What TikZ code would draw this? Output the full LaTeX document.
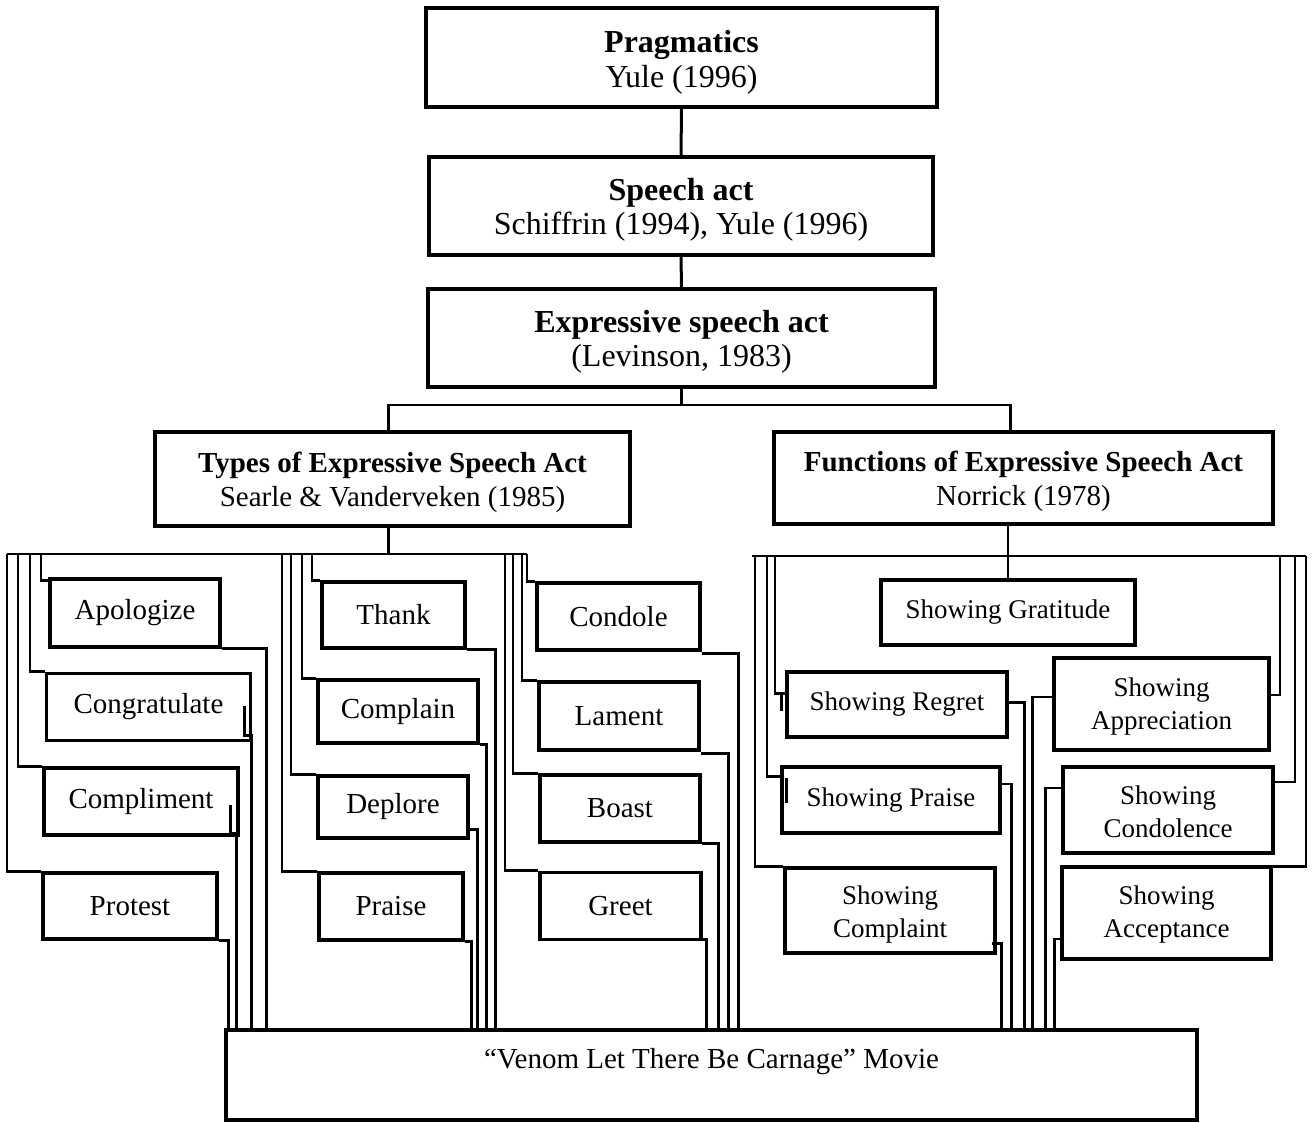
\documentclass[tikz,border=0pt]{standalone}
\usepackage{fontspec}
\setmainfont{Liberation Serif}
\begin{document}
\begin{tikzpicture}[x=1pt,y=-1pt,
  box/.style={draw,line width=3.5pt,inner sep=0pt,align=center},
  txt/.style={inner sep=0pt,align=center},
  bigf/.style={font=\fontsize{32}{34.5}\selectfont},
  midf/.style={font=\fontsize{29}{34}\selectfont},
  subf/.style={font=\fontsize{29}{33}\selectfont},
  funf/.style={font=\fontsize{27}{33}\selectfont},
  conn/.style={line width=2.6pt},
  stub/.style={line width=2.6pt}]
\useasboundingbox (0,0) rectangle (1314,1123);
% top chain
\node[box,minimum width=511pt,minimum height=99pt] (prag) at (681.5,57.5) {};
\node[txt,bigf] (pragt) at ([yshift=-5pt]prag.center) {\textbf{Pragmatics}\\Yule (1996)};
\node[box,minimum width=504pt,minimum height=98pt] (speech) at (681,206) {};
\node[txt,bigf] (speecht) at ([yshift=-4pt]speech.center) {\textbf{Speech act}\\Schiffrin (1994), Yule (1996)};
\node[box,minimum width=507pt,minimum height=98pt] (expr) at (681.5,338) {};
\node[txt,bigf] (exprt) at ([yshift=-4pt]expr.center) {\textbf{Expressive speech act}\\(Levinson, 1983)};
\node[box,minimum width=475pt,minimum height=94pt] (types) at (392.5,479) {};
\node[txt,midf] (typest) at ([yshift=-3.5pt]types.center) {\textbf{Types of Expressive Speech Act}\\Searle \& Vanderveken (1985)};
\node[box,minimum width=499pt,minimum height=92pt] (func) at (1023.5,478) {};
\node[txt,midf] (funct) at ([yshift=-3.5pt]func.center) {\textbf{Functions of Expressive Speech Act}\\Norrick (1978)};
% types sub-boxes
\node[box,subf,minimum width=170pt,minimum height=68pt] (apol) at (135,613) {Apologize};
\node[box,subf,minimum width=204pt,minimum height=67pt] (congr) at (148.5,707) {Congratulate};
\node[box,subf,minimum width=194pt,minimum height=67pt] (compl) at (141,801.5) {Compliment};
\node[box,subf,minimum width=174pt,minimum height=66pt] (protest) at (130,906) {Protest};
\node[box,subf,minimum width=143pt,minimum height=66pt] (thank) at (393.5,615) {Thank};
\node[box,subf,minimum width=160pt,minimum height=63pt] (complain) at (398,711.5) {Complain};
\node[box,subf,minimum width=150pt,minimum height=62pt] (deplore) at (393,807) {Deplore};
\node[box,subf,minimum width=144pt,minimum height=67pt] (praise) at (391,906.5) {Praise};
\node[box,subf,minimum width=163pt,minimum height=67pt] (condole) at (618.5,616.5) {Condole};
\node[box,subf,minimum width=160pt,minimum height=68pt] (lament) at (619,716) {Lament};
\node[box,subf,minimum width=160pt,minimum height=67pt] (boast) at (620,808.5) {Boast};
\node[box,subf,minimum width=161pt,minimum height=67pt] (greet) at (620.5,906) {Greet};
% function sub-boxes
\node[box,funf,minimum width=254pt,minimum height=65pt] (grat) at (1008,612.5) {Showing Gratitude};
\node[box,funf,minimum width=220pt,minimum height=65pt] (regret) at (897,704.5) {Showing Regret};
\node[box,funf,minimum width=218pt,minimum height=66pt] (spraise) at (891,800) {Showing Praise};
\node[box,minimum width=210pt,minimum height=85pt] (scompl) at (890,910.5) {};
\node[txt,funf] (scomplt) at ([yshift=-3.5pt]scompl.center) {Showing\\Complaint};
\node[box,minimum width=215pt,minimum height=92pt] (appr) at (1161.5,704) {};
\node[txt,funf] (apprt) at ([yshift=-3pt]appr.center) {Showing\\Appreciation};
\node[box,minimum width=210pt,minimum height=86pt] (condol) at (1168,810) {};
\node[txt,funf] (condolt) at ([yshift=-2pt]condol.center) {Showing\\Condolence};
\node[box,minimum width=209pt,minimum height=92pt] (accept) at (1166.5,913) {};
\node[txt,funf] (acceptt) at ([yshift=-1pt]accept.center) {Showing\\Acceptance};
% bottom box
\node[box,minimum width=971pt,minimum height=90pt] (venom) at (711.5,1075) {};
\node[txt,subf] (venomtxt) at ([yshift=13pt]venom.center) {“Venom Let There Be Carnage” Movie};
% top connectors
\coordinate (tb) at (0,405);
\draw[line width=3pt] (prag.south) -- (speech.north);
\draw[line width=3pt] (speech.south) -- (expr.north);
\draw[conn] (expr.south) -- (expr.south |- tb);
\draw[conn] ([xshift=-4pt]types.north) |- ([xshift=-13pt]func.north |- tb) -- ([xshift=-13pt]func.north);
% left bus
\coordinate (lbL) at (7,554);
\coordinate (lbR) at (527,554);
\draw[conn] ([xshift=-4pt]types.south) -- ([xshift=-4pt]types.south |- lbL);
\draw[conn] (lbL) -- (lbR);
% group 1 left
\draw[conn] ([xshift=34pt]lbL) |- ([yshift=-3pt]apol.north west);
\draw[conn] ([xshift=23pt]lbL) |- (congr.north west);
\draw[conn] ([xshift=11pt]lbL) |- (compl.north west);
\draw[conn] (lbL) |- (protest.north west);
% group 1 right
\draw[conn] (apol.south east) -| ([xshift=42pt]venom.north west);
\draw[stub] ([xshift=-8pt,yshift=36pt]congr.south east) -- ++(0,29) -| ([xshift=27pt]venom.north west);
\draw[stub] ([xshift=-9pt,yshift=32pt]compl.south east) -- ++(0,29) -| ([xshift=12pt]venom.north west);
\draw[conn] (protest.south east) -| ([xshift=4pt]venom.north west);
% group 2 left
\draw[conn] ([xshift=305pt]lbL) |- (thank.north west);
\draw[conn] ([xshift=295pt]lbL) |- (complain.north west);
\draw[conn] ([xshift=284pt]lbL) |- (deplore.north west);
\draw[conn] ([xshift=275pt]lbL) |- (praise.north west);
% group 2 right
\draw[conn] (thank.south east) -| ([xshift=271pt]venom.north west);
\draw[conn] (complain.south east) -| ([xshift=262pt]venom.north west);
\draw[conn] ([yshift=10pt]deplore.south east) -| ([xshift=253pt]venom.north west);
\draw[conn] (praise.south east) -| ([xshift=247pt]venom.north west);
% group 3 left
\draw[conn] (lbR) |- (condole.north west);
\draw[conn] ([xshift=-5pt]lbR) |- (lament.north west);
\draw[conn] ([xshift=-14pt]lbR) |- (boast.north west);
\draw[conn] ([xshift=-22pt]lbR) |- (greet.north west);
% group 3 right
\draw[conn] ([yshift=-2pt]condole.south east) -| ([xshift=514pt]venom.north west);
\draw[conn] ([yshift=-2pt]lament.south east) -| ([xshift=504pt]venom.north west);
\draw[conn] (boast.south east) -| ([xshift=494pt]venom.north west);
\draw[conn] ([yshift=2pt]greet.south east) -| ([xshift=482pt]venom.north west);
% functions bus
\coordinate (rbL) at (752,556);
\coordinate (rbR) at (1306,556);
\draw[conn] (rbL) -- (rbR);
\draw[conn] (grat.north |- func.south) -- (grat.north);
% functions left column, left side
\draw[conn] ([xshift=23pt]rbL) |- ([yshift=11pt]regret.west);
\draw[stub] ([xshift=-4pt,yshift=11pt]regret.west) -- ++(0,17);
\draw[conn] ([xshift=15pt]rbL) |- ([yshift=-11pt]spraise.north west);
\draw[stub] ([xshift=6pt,yshift=-13pt]spraise.north west) -- ++(0,25);
\draw[conn] ([xshift=3pt]rbL) |- (scompl.north west);
% functions left column, right side
\draw[conn] ([yshift=2pt]regret.east) -| ([xshift=800pt]venom.north west);
\draw[stub] ([xshift=-2pt,yshift=2pt]regret.east) -- ++(0,13);
\draw[conn] ([yshift=16pt]spraise.east) -| ([xshift=787pt]venom.north west);
\draw[conn] ([xshift=-5pt,yshift=11pt]scompl.south east) -| ([xshift=777pt]venom.north west);
% functions right column, right side
\draw[conn] ([xshift=-26pt]rbR) |- ([yshift=9pt]appr.east);
\draw[conn] ([xshift=-11pt]rbR) |- ([yshift=28pt]condol.east);
\draw[conn] (rbR) |- ([yshift=-1pt]accept.north east);
% functions right column, left side
\draw[conn] ([yshift=7pt]appr.west) -| ([xshift=808pt]venom.north west);
\draw[conn] ([xshift=4pt,yshift=22pt]condol.west) -| ([xshift=821pt]venom.north west);
\draw[conn] ([xshift=4pt,yshift=-26pt]accept.west) -| ([xshift=830pt]venom.north west);
\end{tikzpicture}
\end{document}
